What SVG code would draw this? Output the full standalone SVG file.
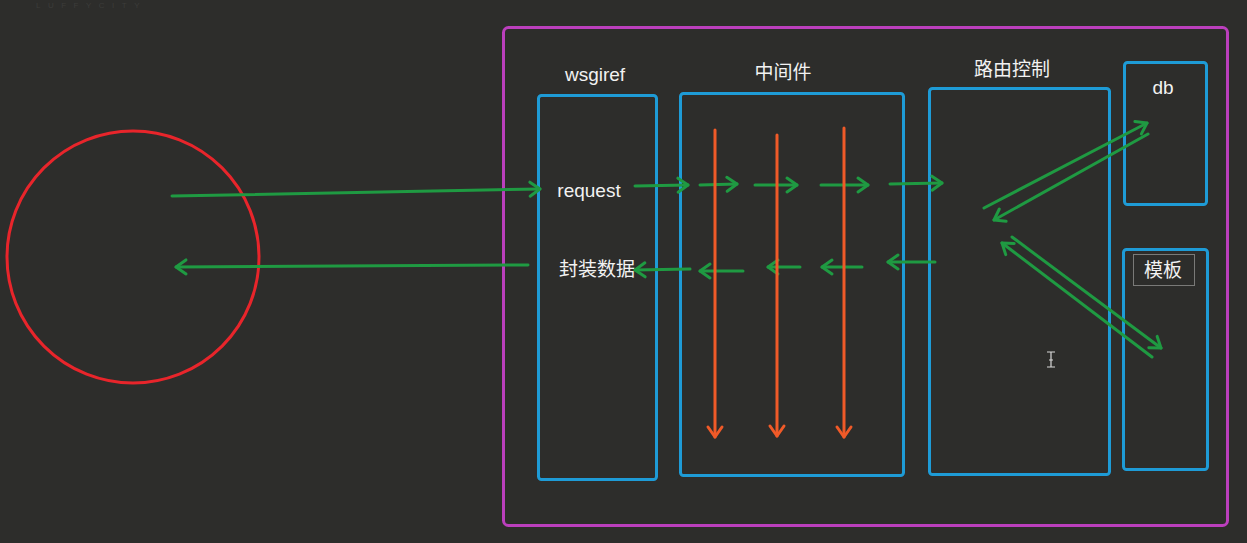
<svg xmlns="http://www.w3.org/2000/svg" width="1247" height="543" viewBox="0 0 1247 543">
<defs>
<style>
.bg{fill:#2d2d2b}
.box{fill:none;stroke:#1e9bd6;stroke-width:3}
.lbl{fill:#f2f2f2;font-family:"Liberation Sans","Noto Sans CJK SC",sans-serif;font-size:19px;text-anchor:middle}
.g{stroke:#1f9a42;stroke-width:3;fill:none;stroke-linecap:round;marker-end:url(#ga)}
.r{stroke:#f05a28;stroke-width:3;fill:none;stroke-linecap:round;marker-end:url(#ra)}
</style>
<marker id="ga" markerUnits="userSpaceOnUse" viewBox="-14 -10 18 20" refX="0" refY="0" markerWidth="18" markerHeight="20" orient="auto" overflow="visible">
<path d="M-10,-7 L0,0 L-10,7" fill="none" stroke="#1f9a42" stroke-width="3" stroke-linecap="round" stroke-linejoin="round"/>
</marker>
<marker id="ra" markerUnits="userSpaceOnUse" viewBox="-14 -10 18 20" refX="0" refY="0" markerWidth="18" markerHeight="20" orient="auto" overflow="visible">
<path d="M-10,-7 L0,0 L-10,7" fill="none" stroke="#f05a28" stroke-width="3" stroke-linecap="round" stroke-linejoin="round"/>
</marker>
</defs>
<rect class="bg" x="0" y="0" width="1247" height="543"/>
<text x="36" y="8" fill="#3c3c3a" font-family="Liberation Sans, sans-serif" font-size="8" letter-spacing="7.5">LUFFYCITY</text>

<g id="client">
<circle cx="133" cy="257" r="126" fill="none" stroke="#e8252b" stroke-width="3"/>
</g>
<g id="server">
<rect x="503.5" y="27.5" width="724" height="498" rx="5" fill="none" stroke="#bb3fbd" stroke-width="3"/>
</g>
<g id="wsgiref">
<rect class="box" x="538.5" y="95.5" width="118" height="384" rx="3"/>
<text class="lbl" x="595" y="81">wsgiref</text>
<text class="lbl" x="589" y="197">request</text>
<text class="lbl" x="597" y="276">封装数据</text>
</g>
<g id="middleware">
<rect class="box" x="680.5" y="93.5" width="223" height="382" rx="3"/>
<text class="lbl" x="783" y="79">中间件</text>
</g>
<g id="router">
<rect class="box" x="929.5" y="88.5" width="180" height="386" rx="3"/>
<text class="lbl" x="1012" y="76">路由控制</text>
</g>
<g id="db">
<rect class="box" x="1124.5" y="62.5" width="82" height="142" rx="3"/>
<text class="lbl" x="1163" y="94">db</text>
</g>
<g id="template">
<rect class="box" x="1123.5" y="249.5" width="84" height="220" rx="3"/>
<rect x="1133.5" y="254.5" width="61" height="31" fill="#2d2d2b" stroke="#7a7a78" stroke-width="1"/>
<text class="lbl" x="1163" y="277">模板</text>
</g>

<g id="connectors">
<path class="g" d="M172,196 L540,189"/>
<path class="g" d="M528,265 L176,267"/>
<path class="g" d="M635,186 L688,185"/>
<path class="g" d="M700,185 L737,184"/>
<path class="g" d="M755,185 L797,185"/>
<path class="g" d="M821,185 L868,185"/>
<path class="g" d="M890,184 L942,183"/>
<path class="g" d="M690,269 L635,270"/>
<path class="g" d="M743,271 L700,271"/>
<path class="g" d="M800,267 L768,267"/>
<path class="g" d="M862,267 L822,267"/>
<path class="g" d="M935,262 L888,262"/>
<path class="g" d="M984,208 L1147,123"/>
<path class="g" d="M1148,134 L994,220"/>
<path class="g" d="M1012,237 L1161,348"/>
<path class="g" d="M1152,357 L1002,243"/>
<path class="r" d="M715,130 L715,437"/>
<path class="r" d="M777,135 L777,436"/>
<path class="r" d="M844,128 L844,437"/>
</g>
<path d="M1047,352 L1055,352 M1051,352 L1051,367 M1047,367 L1055,367 M1049,360 L1053,360" stroke="#d8d8d8" stroke-width="1.2" fill="none"/>
</svg>
